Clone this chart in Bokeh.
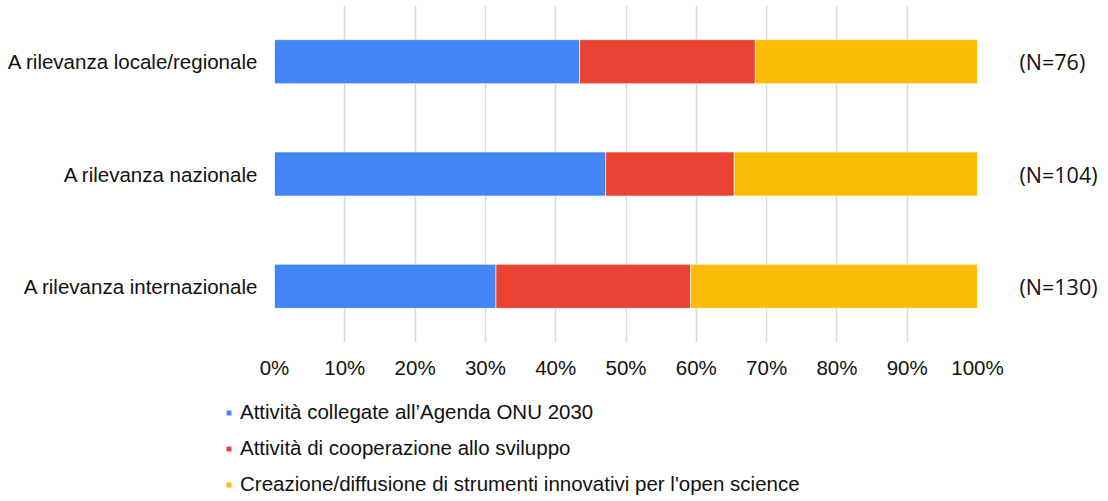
from bokeh.plotting import figure
from bokeh.models import (ColumnDataSource, FactorRange, FixedTicker, PrintfTickFormatter,
                          CategoricalAxis, Legend, LegendItem, Range1d)
from bokeh.embed import file_html
from bokeh.resources import INLINE

# ---- data (top to bottom) ----
categories = ["A rilevanza locale/regionale", "A rilevanza nazionale", "A rilevanza internazionale"]
n_labels = ["(N=76)", "(N=104)", "(N=130)"]
agenda_onu = [43.4, 47.1, 31.5]
cooperazione = [25.0, 18.3, 27.7]
open_science = [31.6, 34.6, 40.8]
series_names = ["Attività collegate all’Agenda ONU 2030",
                "Attività di cooperazione allo sviluppo",
                "Creazione/diffusione di strumenti innovativi per l'open science"]
colors = ["#4285F4", "#EA4335", "#FBBC04"]
x_ticks = [0, 10, 20, 30, 40, 50, 60, 70, 80, 90, 100]

source = ColumnDataSource(dict(cat=categories, s0=agenda_onu, s1=cooperazione, s2=open_science))

FONT = "Liberation Sans"
FS = "20.5px"
TXT = "#111111"

p = figure(width=1108, frame_width=703, frame_height=337, output_backend="svg", toolbar_location=None,
           y_range=FactorRange(*categories[::-1]), x_range=(0, 100),
           min_border_left=274, min_border_right=131, min_border_top=5, min_border_bottom=40)
p.extra_y_ranges = {"n": FactorRange(*n_labels[::-1])}

p.hbar_stack(["s0", "s1", "s2"], y="cat", height=0.392, source=source, color=colors,
             line_color="white", line_width=0.6)

p.outline_line_color = None
p.background_fill_color = "white"
p.border_fill_color = "white"
p.ygrid.grid_line_color = None
p.xgrid.grid_line_color = "#d9d9d9"
p.xgrid.grid_line_width = 1.5
p.xgrid.ticker = FixedTicker(ticks=x_ticks)

xa = p.xaxis[0]
xa.ticker = FixedTicker(ticks=x_ticks)
xa.formatter = PrintfTickFormatter(format="%d%%")
xa.axis_line_color = None
xa.major_tick_line_color = None
xa.minor_tick_line_color = None
xa.major_label_text_font = FONT
xa.major_label_text_font_size = FS
xa.major_label_text_color = TXT
xa.major_label_standoff = 7

ya = p.yaxis[0]
ya.axis_line_color = None
ya.major_tick_line_color = None
ya.minor_tick_line_color = None
ya.major_label_text_font = FONT
ya.major_label_text_font_size = FS
ya.major_label_text_color = TXT
ya.major_label_standoff = 10

ra = CategoricalAxis(y_range_name="n")
ra.axis_line_color = None
ra.major_tick_line_color = None
ra.minor_tick_line_color = None
ra.major_label_text_font = "Open Sans"
ra.major_label_text_font_size = "21.5px"
ra.major_label_text_color = TXT
ra.major_label_standoff = 36
p.add_layout(ra, "right")

# ---- legend strip below the chart (its swatches come from the same stacked bars, kept out of view) ----
p2 = figure(width=1108, height=118, output_backend="svg", toolbar_location=None,
            x_range=Range1d(-200, -100), y_range=FactorRange(*categories[::-1]),
            x_axis_location=None, y_axis_location=None,
            min_border_left=0, min_border_right=0, min_border_top=0, min_border_bottom=0)
p2.outline_line_color = None
p2.grid.visible = False
p2.background_fill_color = "white"
p2.border_fill_color = "white"
rs2 = p2.hbar_stack(["s0", "s1", "s2"], y="cat", height=0.392, source=source, color=colors,
                    line_color="white", line_width=0.6)

lg = Legend(items=[LegendItem(label=name, renderers=[r]) for name, r in zip(series_names, rs2)])
lg.location = (225, 4)
lg.orientation = "vertical"
lg.border_line_color = None
lg.background_fill_alpha = 0
lg.padding = 0
lg.margin = 0
lg.spacing = 12
lg.glyph_width = 7
lg.glyph_height = 7
lg.label_height = 24
lg.label_standoff = 8
lg.label_text_font = FONT
lg.label_text_font_size = FS
lg.label_text_color = TXT
p2.add_layout(lg, "center")

open("out.html", "w").write(file_html([p, p2], INLINE))
